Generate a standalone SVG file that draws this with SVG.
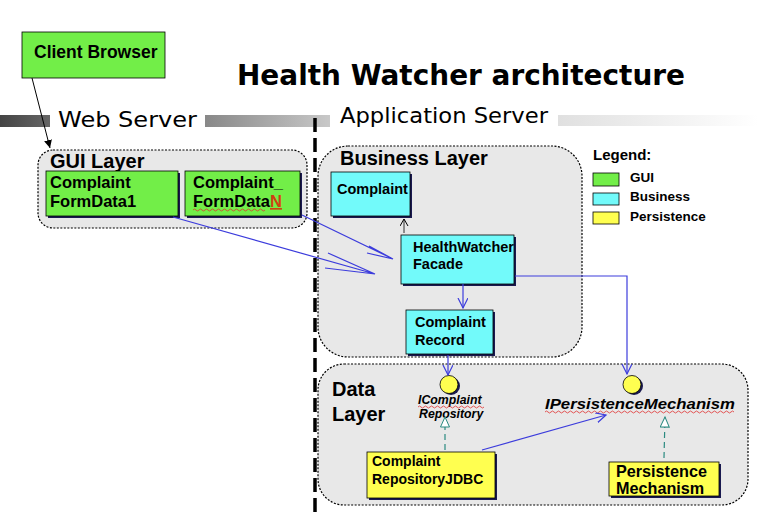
<svg xmlns="http://www.w3.org/2000/svg" width="778" height="515" viewBox="0 0 778 515">
<defs>
<linearGradient id="g1" x1="0" x2="1" y1="0" y2="0"><stop offset="0" stop-color="#444"/><stop offset="1" stop-color="#666"/></linearGradient>
<linearGradient id="g2" x1="0" x2="1" y1="0" y2="0"><stop offset="0" stop-color="#888"/><stop offset="1" stop-color="#c8c8c8"/></linearGradient>
<linearGradient id="g3" x1="0" x2="1" y1="0" y2="0"><stop offset="0" stop-color="#e0e0e0"/><stop offset="1" stop-color="#fff"/></linearGradient>
<marker id="open" markerWidth="12" markerHeight="12" refX="10" refY="5" orient="auto" markerUnits="userSpaceOnUse"><path d="M0,0 L10,5 L0,10" fill="none" stroke="#3c3cdc" stroke-width="1.2"/></marker>
<marker id="tri" markerWidth="14" markerHeight="14" refX="11" refY="5" orient="auto" markerUnits="userSpaceOnUse"><path d="M1,0.5 L11,5 L1,9.5 Z" fill="#fff" stroke="#2a8a80" stroke-width="1"/></marker>
<marker id="blk" markerWidth="10" markerHeight="10" refX="8" refY="4" orient="auto" markerUnits="userSpaceOnUse"><path d="M0,0 L8,4 L0,8 Z" fill="#000"/></marker>
<marker id="blkopen" markerWidth="10" markerHeight="10" refX="7" refY="4" orient="auto" markerUnits="userSpaceOnUse"><path d="M0,0 L7,4 L0,8" fill="none" stroke="#000" stroke-width="1"/></marker>
</defs>
<style>
.layer{fill:#e8e8e8;stroke:#000;stroke-width:1.2;stroke-dasharray:2 1.5}
.sh{fill:#1a1a50}
.gui{fill:#72ee48;stroke:#000;stroke-width:0.8}
.biz{fill:#72fafa;stroke:#000;stroke-width:0.8}
.per{fill:#ffff50;stroke:#000;stroke-width:0.8}
.t{font-family:"Liberation Sans",Arial,sans-serif;font-weight:bold;fill:#000}
.hand{font-family:"DejaVu Sans",sans-serif;fill:#000}
.blue{stroke:#3c3cdc;stroke-width:1.2;fill:none}
.real{stroke:#2a8a80;stroke-width:1.2;stroke-dasharray:6 4;fill:none}
.wavy{fill:none;stroke:#e03030;stroke-width:0.8}
</style>

<!-- background bars and headings -->
<rect x="0" y="115" width="50" height="12" fill="url(#g1)"/>
<rect x="205" y="115" width="125" height="12" fill="url(#g2)"/>
<rect x="558" y="115" width="200" height="11" fill="url(#g3)"/>
<text class="hand" x="237" y="85" font-size="29" font-weight="bold" textLength="448" lengthAdjust="spacingAndGlyphs">Health Watcher architecture</text>
<text class="hand" x="58" y="127" font-size="22" textLength="139" lengthAdjust="spacingAndGlyphs">Web Server</text>
<text class="hand" x="340" y="123" font-size="22" textLength="208" lengthAdjust="spacingAndGlyphs">Application Server</text>

<!-- server divider -->
<line x1="315" y1="118" x2="315" y2="515" stroke="#000" stroke-width="3.5" stroke-dasharray="14 6"/>

<!-- layers -->
<g id="gui-layer">
<rect class="layer" x="38" y="150" width="269" height="78" rx="15"/>
<text class="t" x="50" y="168" font-size="20">GUI Layer</text>
</g>
<g id="business-layer">
<rect class="layer" x="318" y="146" width="264" height="211" rx="30"/>
<text class="t" x="340" y="165" font-size="20">Business Layer</text>
</g>
<g id="data-layer">
<rect class="layer" x="318" y="364" width="430" height="141" rx="26"/>
<text class="t" x="332" y="396" font-size="20">Data</text>
<text class="t" x="332" y="421" font-size="20">Layer</text>
</g>

<!-- legend -->
<g id="legend">
<text class="t" x="593" y="160" font-size="15">Legend:</text>
<rect class="gui" x="593" y="173" width="26" height="13"/>
<rect class="biz" x="593" y="193" width="26" height="12"/>
<rect class="per" x="593" y="212" width="26" height="12"/>
<text class="t" x="630" y="182" font-size="13.5">GUI</text>
<text class="t" x="630" y="201" font-size="13.5">Business</text>
<text class="t" x="630" y="221" font-size="13.5">Persistence</text>
</g>

<!-- nodes -->
<g id="client-browser">
<rect class="gui" x="22" y="32" width="143" height="46"/>
<text class="t" x="34" y="58" font-size="17.5">Client Browser</text>
</g>
<g id="complaint-formdata1">
<rect class="sh" x="48" y="173" width="132" height="45"/>
<rect class="gui" x="46" y="171" width="132" height="45"/>
<text class="t" x="50" y="188" font-size="16.5">Complaint</text>
<text class="t" x="50" y="207" font-size="16.5">FormData1</text>
</g>
<g id="complaint-formdataN">
<rect class="sh" x="187" y="173" width="115" height="45"/>
<rect class="gui" x="185" y="171" width="115" height="45"/>
<text class="t" x="193" y="188" font-size="16.5">Complaint_</text>
<text class="t" x="193" y="207" font-size="16.5">FormData<tspan fill="#d04010" text-decoration="underline">N</tspan></text>
<path class="wavy" d="M193,210 q1.5,-2 3,0 t3,0 t3,0 t3,0 t3,0 t3,0 t3,0 t3,0 t3,0 t3,0 t3,0 t3,0 t3,0 t3,0 t3,0 t3,0 t3,0 t3,0 t3,0 t3,0 t3,0 t3,0 t3,0 t3,0"/>
</g>
<g id="complaint">
<rect class="sh" x="333" y="174" width="79" height="44"/>
<rect class="biz" x="331" y="172" width="79" height="44"/>
<text class="t" x="337" y="194" font-size="14.5">Complaint</text>
</g>
<g id="healthwatcher-facade">
<rect class="sh" x="403" y="237" width="113" height="49"/>
<rect class="biz" x="401" y="235" width="113" height="49"/>
<text class="t" x="413" y="252" font-size="14.5">HealthWatcher</text>
<text class="t" x="413" y="269" font-size="14.5">Facade</text>
</g>
<g id="complaint-record">
<rect class="sh" x="408" y="312" width="87" height="44"/>
<rect class="biz" x="406" y="310" width="87" height="44"/>
<text class="t" x="415" y="327" font-size="14.5">Complaint</text>
<text class="t" x="415" y="345" font-size="14.5">Record</text>
</g>
<g id="icomplaint-repository">
<circle cx="451" cy="386" r="9" fill="#1a1a50"/>
<circle cx="449" cy="384.5" r="9" fill="#ffff50" stroke="#000" stroke-width="0.8"/>
<text class="t" x="418" y="404" font-size="12.3" font-style="italic">IComplaint</text>
<text class="t" x="419" y="418" font-size="12.3" font-style="italic">Repository</text>
<path class="wavy" d="M418,407 q1.5,-2 3,0 t3,0 t3,0 t3,0 t3,0 t3,0 t3,0 t3,0 t3,0 t3,0 t3,0 t3,0 t3,0 t3,0 t3,0 t3,0 t3,0 t3,0 t3,0 t3,0 t3,0 t3,0"/>
</g>
<g id="ipersistence-mechanism">
<circle cx="634" cy="386" r="9" fill="#1a1a50"/>
<circle cx="632" cy="384.5" r="9" fill="#ffff50" stroke="#000" stroke-width="0.8"/>
<text class="t" x="545" y="409" font-size="15.5" font-style="italic" textLength="190" lengthAdjust="spacingAndGlyphs">IPersistenceMechanism</text>
<path class="wavy" d="M545,412 q1.5,-2 3,0 t3,0 t3,0 t3,0 t3,0 t3,0 t3,0 t3,0 t3,0 t3,0 t3,0 t3,0 t3,0 t3,0 t3,0 t3,0 t3,0 t3,0 t3,0 t3,0 t3,0 t3,0 t3,0 t3,0 t3,0 t3,0 t3,0 t3,0 t3,0 t3,0 t3,0 t3,0 t3,0 t3,0 t3,0 t3,0 t3,0 t3,0 t3,0 t3,0 t3,0 t3,0 t3,0 t3,0 t3,0 t3,0 t3,0 t3,0 t3,0 t3,0 t3,0 t3,0 t3,0 t3,0 t3,0 t3,0 t3,0 t3,0 t3,0 t3,0 t3,0 t3,0 t3,0"/>
</g>
<g id="complaint-repository-jdbc">
<rect class="sh" x="369" y="454" width="128" height="46"/>
<rect class="per" x="367" y="452" width="128" height="46"/>
<text class="t" x="372" y="466" font-size="14">Complaint</text>
<text class="t" x="372" y="484" font-size="14">RepositoryJDBC</text>
</g>
<g id="persistence-mechanism">
<rect class="sh" x="611" y="464" width="110" height="34"/>
<rect class="per" x="609" y="462" width="110" height="34"/>
<text class="t" x="616" y="477" font-size="16.2">Persistence</text>
<text class="t" x="616" y="494" font-size="16.2">Mechanism</text>
</g>

<!-- connectors -->
<g id="connectors">
<line x1="32" y1="78" x2="50" y2="148" stroke="#000" stroke-width="1" marker-end="url(#blk)"/>
<path class="blue" d="M173,217 L375,274 M328,253 L375,274 L325,268"/>
<path class="blue" d="M302,215 L393,259 M369,246 L393,259 L367,253"/>
<line x1="404" y1="233" x2="404" y2="219" stroke="#000" stroke-width="0.8" marker-end="url(#blkopen)"/>
<line class="blue" x1="463" y1="284" x2="463" y2="308" marker-end="url(#open)"/>
<polyline class="blue" points="515,276 627,276 627,374" marker-end="url(#open)"/>
<line class="blue" x1="448" y1="355" x2="448" y2="375" marker-end="url(#open)"/>
<line class="blue" x1="482" y1="450" x2="606" y2="415" marker-end="url(#open)"/>
<line class="real" x1="445" y1="450" x2="445" y2="417" marker-end="url(#tri)"/>
<line class="real" x1="664" y1="458" x2="665" y2="417" marker-end="url(#tri)"/>
</g>
</svg>
